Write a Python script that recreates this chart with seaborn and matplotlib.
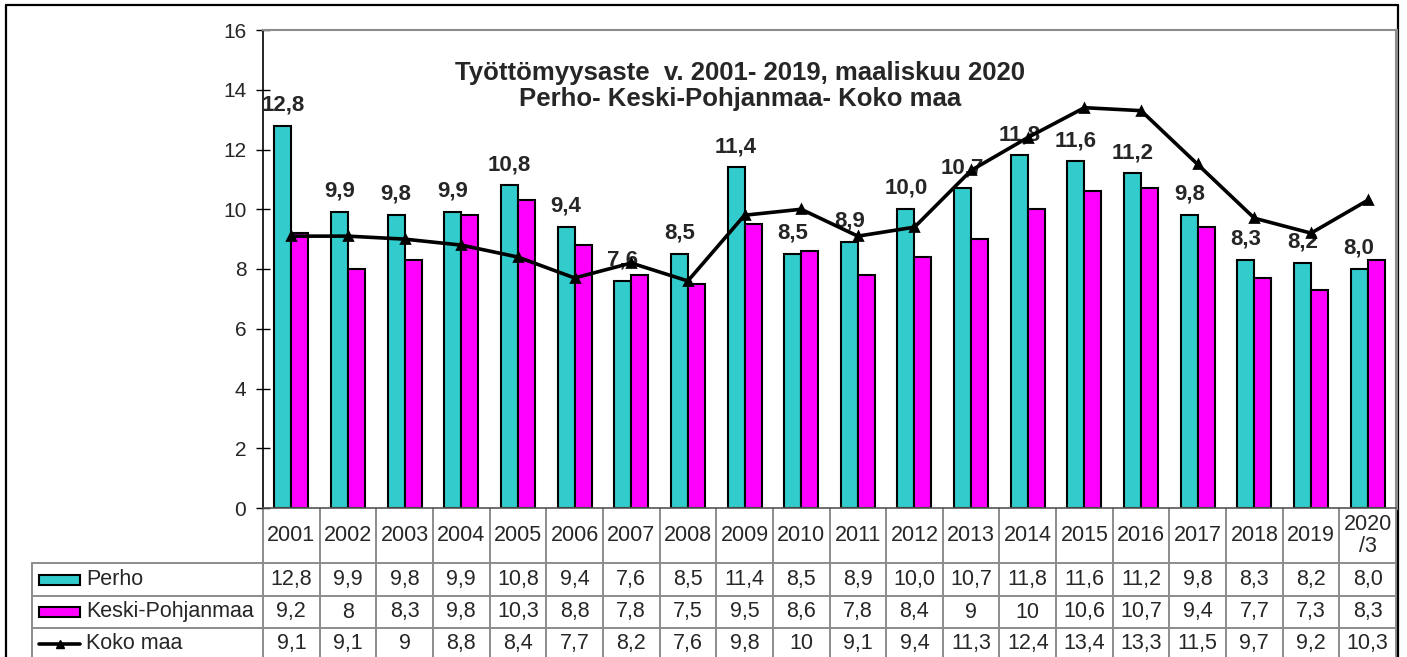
import numpy as np
import pandas as pd
import seaborn as sns
import matplotlib.pyplot as plt
from matplotlib.lines import Line2D
from matplotlib.patches import Rectangle

years = ["2001", "2002", "2003", "2004", "2005", "2006", "2007", "2008", "2009", "2010",
         "2011", "2012", "2013", "2014", "2015", "2016", "2017", "2018", "2019", "2020\n/3"]
perho = [12.8, 9.9, 9.8, 9.9, 10.8, 9.4, 7.6, 8.5, 11.4, 8.5,
         8.9, 10.0, 10.7, 11.8, 11.6, 11.2, 9.8, 8.3, 8.2, 8.0]
keski = [9.2, 8, 8.3, 9.8, 10.3, 8.8, 7.8, 7.5, 9.5, 8.6,
         7.8, 8.4, 9, 10, 10.6, 10.7, 9.4, 7.7, 7.3, 8.3]
koko = [9.1, 9.1, 9, 8.8, 8.4, 7.7, 8.2, 7.6, 9.8, 10,
        9.1, 9.4, 11.3, 12.4, 13.4, 13.3, 11.5, 9.7, 9.2, 10.3]
series_names = ["Perho", "Keski-Pohjanmaa", "Koko maa"]
title = "Työttömyysaste  v. 2001- 2019, maaliskuu 2020\nPerho- Keski-Pohjanmaa- Koko maa"

CYAN = "#33CCCC"
MAGENTA = "#FF00FF"
GRID = "#8c8c8c"
FS = 15.5

sns.set_theme(style="white")
plt.rcParams["font.family"] = ["Liberation Sans", "DejaVu Sans"]

W, H = 1407, 657
x0, x1, y0, y1 = 263, 1396, 30, 508
n = len(years)

fig = plt.figure(figsize=(W / 100, H / 100), dpi=100)

# table / frame layer in pixel coordinates
tab = fig.add_axes([0, 0, 1, 1])
tab.set_xlim(0, W)
tab.set_ylim(H, 0)
tab.axis("off")
tab.patch.set_alpha(0)

ax = fig.add_axes([x0 / W, 1 - y1 / H, (x1 - x0) / W, (y1 - y0) / H])

df = pd.DataFrame({
    "year": years * 2,
    "value": perho + keski,
    "series": [series_names[0]] * n + [series_names[1]] * n,
})
sns.barplot(data=df, x="year", y="value", hue="series", order=years,
            palette=[CYAN, MAGENTA], width=0.6, saturation=1,
            edgecolor="black", linewidth=1.5, legend=False, ax=ax, zorder=2)

sns.pointplot(x=years, y=koko, order=years, color="black", markers="^",
              linestyles="-", errorbar=None, markersize=5.5, linewidth=2.6,
              ax=ax, zorder=5)

for i, v in enumerate(perho):
    ax.annotate(f"{v:.1f}".replace(".", ","), xy=(i - 0.15, v), xytext=(0, 15),
                textcoords="offset points", ha="center", va="center",
                fontsize=16, fontweight="bold", zorder=3)

ax.set_xlim(-0.5, n - 0.5)
ax.set_ylim(0, 16)
ax.set_yticks(np.arange(0, 17, 2))
ax.set_xticks([])
ax.set_xlabel("")
ax.set_ylabel("")
ax.tick_params(axis="y", direction="inout", length=10, width=1, labelsize=15,
               pad=7, color="black", left=True)
ax.spines["left"].set_color("black")
ax.spines["left"].set_linewidth(1.2)
ax.spines["top"].set_color(GRID)
ax.spines["top"].set_linewidth(1.5)
ax.spines["right"].set_color(GRID)
ax.spines["right"].set_linewidth(2.2)
ax.spines["bottom"].set_color("#555555")
ax.spines["bottom"].set_linewidth(1.2)
ax.patch.set_alpha(0)

fig.text(740 / W, 1 - 86 / H, title, ha="center", va="center", fontsize=18.5,
         fontweight="bold", linespacing=1.15,
         family=["Liberation Sans Narrow", "Liberation Sans"])

# data table below the chart
col_w = (x1 - x0) / n
edges = x0 + np.arange(n + 1) * col_w
r_head, r1, r2, r3, r_end = 508, 563, 596, 628, 661
for xe in edges:
    tab.plot([xe, xe], [r_head, r_end], color=GRID, lw=1.4)
tab.plot([32, 32], [r1, r_end], color=GRID, lw=1.4)
for ry in (r1, r2, r3):
    tab.plot([32, x1], [ry, ry], color=GRID, lw=1.4)

centers = (edges[:-1] + edges[1:]) / 2
row_y = [(r1 + r2) / 2, (r2 + r3) / 2, (r3 + r_end) / 2 - 1]
for i, c in enumerate(centers):
    tab.text(c, (r_head + r1) / 2, years[i], ha="center", va="center",
             fontsize=FS, linespacing=1.0)
    tab.text(c, row_y[0], f"{perho[i]:.1f}".replace(".", ","), ha="center", va="center", fontsize=FS)
    tab.text(c, row_y[1], f"{keski[i]:g}".replace(".", ","), ha="center", va="center", fontsize=FS)
    tab.text(c, row_y[2], f"{koko[i]:g}".replace(".", ","), ha="center", va="center", fontsize=FS)

# legend keys in the table
tab.add_patch(Rectangle((39, row_y[0] - 5), 41, 10, facecolor=CYAN, edgecolor="black", lw=1.5))
tab.add_patch(Rectangle((39, row_y[1] - 5), 41, 10, facecolor=MAGENTA, edgecolor="black", lw=1.5))
tab.add_line(Line2D([39, 80], [row_y[2], row_y[2]], color="black", lw=2.6))
tab.add_line(Line2D([59.5], [row_y[2]], color="black", marker="^", markersize=5.5))
for k, name in enumerate(series_names):
    tab.text(86, row_y[k], name, ha="left", va="center", fontsize=FS)

# outer frame
tab.plot([6, 1398], [5, 5], color="black", lw=1.6)
tab.plot([6, 6], [5, H + 2], color="black", lw=1.6)
tab.plot([1398, 1398], [5, H + 2], color="black", lw=1.6)

fig.savefig("out.png", dpi=100)
